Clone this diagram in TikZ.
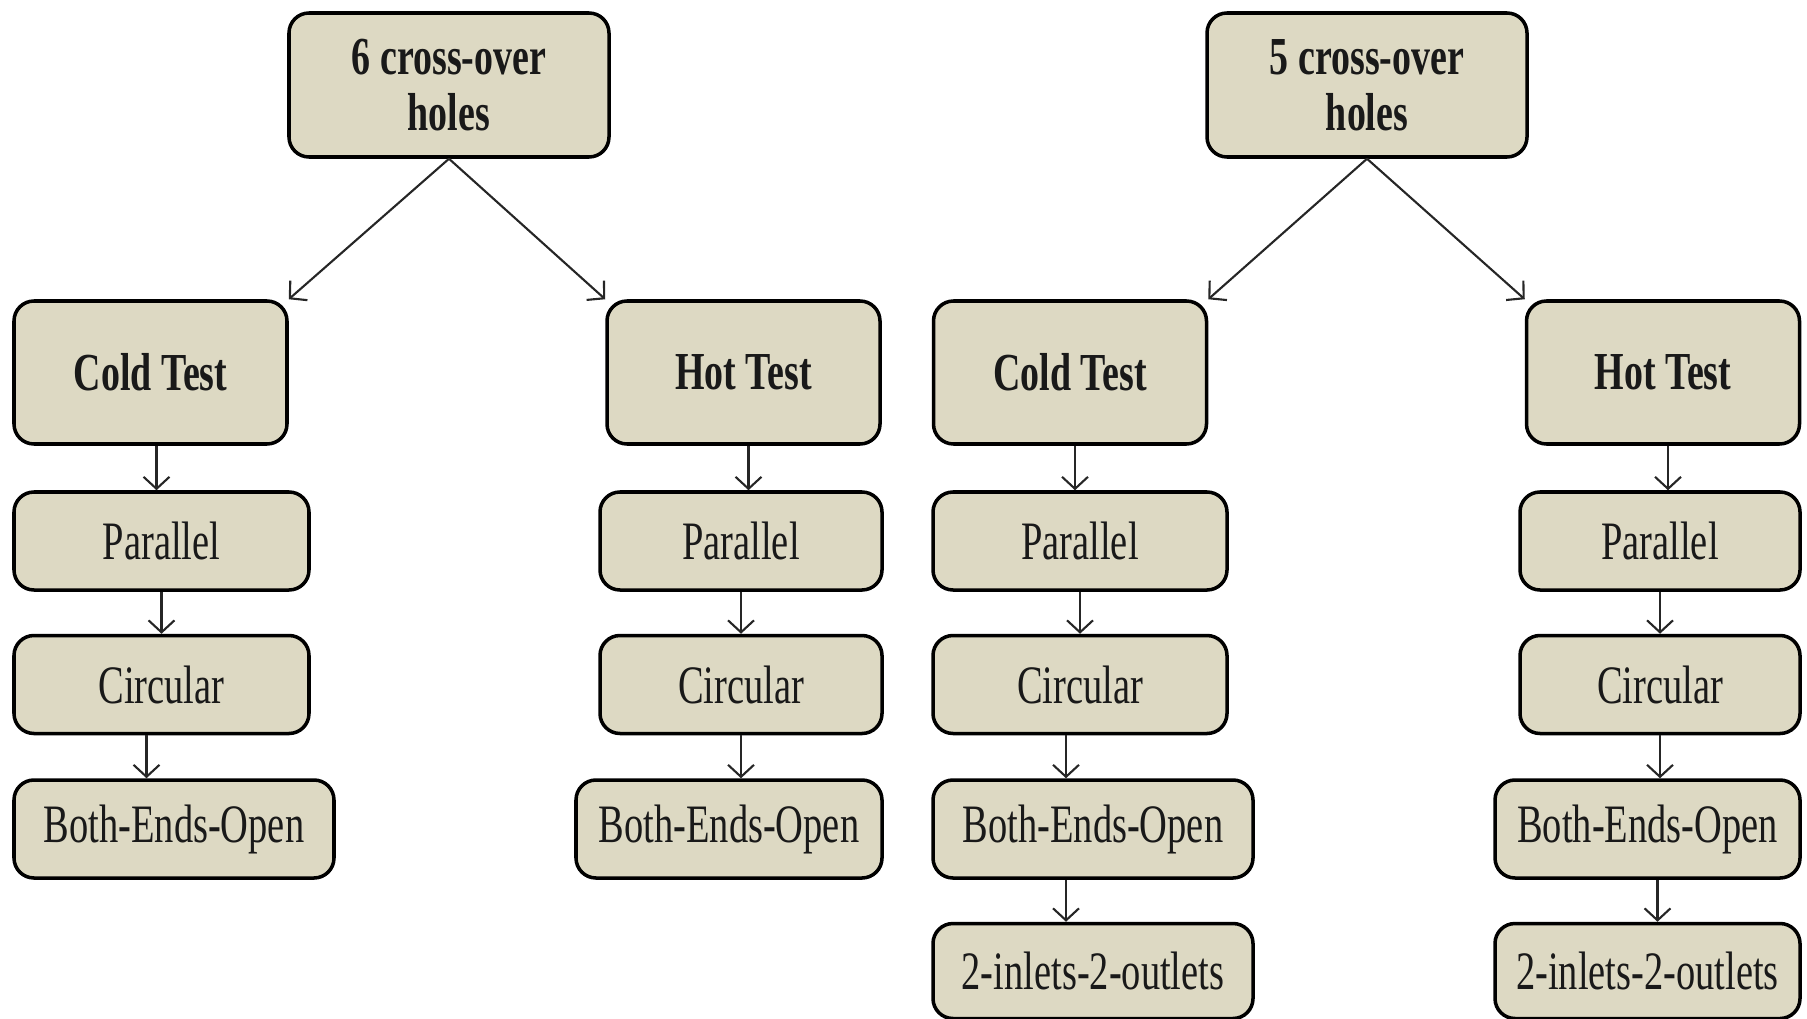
\documentclass[tikz,border=0pt]{standalone}
\usepackage{fontspec}
\setmainfont{Liberation Serif}[FakeStretch=0.71]
\usetikzlibrary{arrows.meta}
\definecolor{boxtan}{RGB}{221,217,195}
\definecolor{ink}{RGB}{25,25,25}

\begin{document}
\begin{tikzpicture}[
    box/.style={draw=black, fill=boxtan, line width=1pt, rounded corners=2mm,
                inner sep=0pt, align=center, text=ink,
                font=\fontsize{15.4pt}{16pt}\selectfont},
    head/.style={box, minimum width=3.2cm, minimum height=1.44cm,
                 font=\fontsize{15.2pt}{16pt}\selectfont\bfseries},
    test/.style={box, minimum width=2.73cm, minimum height=1.43cm,
                 font=\fontsize{15.2pt}{16pt}\selectfont\bfseries},
    sub/.style={box, minimum height=0.98cm},
    arr/.style={draw=black!85, line width=0.6pt,
                -{Straight Barb[length=1.2mm,width=2.6mm]}}]
  \useasboundingbox (0,0) rectangle (18.07,-10.19);
  % heads
  \node[head] (top6) at (4.49,-0.85)  {6 cross-over\\holes};
  \node[head] (top5) at (13.67,-0.85) {5 cross-over\\holes};
  % tests
  \node[test] (cold6) at (1.505,-3.725) {Cold Test};
  \node[test] (hot6)  at (7.435,-3.725) {Hot Test};
  \node[test] (cold5) at (10.70,-3.725) {Cold Test};
  \node[test] (hot5)  at (16.63,-3.725) {Hot Test};
  % 6 holes, cold
  \node[sub, minimum width=2.95cm] (par6c)  at (1.615,-5.41)  {Parallel};
  \node[sub, minimum width=2.95cm] (circ6c) at (1.615,-6.845) {Circular};
  \node[sub, minimum width=3.20cm] (beo6c)  at (1.74,-8.29)   {Both-Ends-Open};
  % 6 holes, hot
  \node[sub, minimum width=2.82cm] (par6h)  at (7.41,-5.41)   {Parallel};
  \node[sub, minimum width=2.82cm] (circ6h) at (7.41,-6.845)  {Circular};
  \node[sub, minimum width=3.06cm] (beo6h)  at (7.29,-8.29)   {Both-Ends-Open};
  % 5 holes, cold
  \node[sub, minimum width=2.94cm] (par5c)  at (10.80,-5.41)  {Parallel};
  \node[sub, minimum width=2.94cm] (circ5c) at (10.80,-6.845) {Circular};
  \node[sub, minimum width=3.20cm] (beo5c)  at (10.93,-8.29)  {Both-Ends-Open};
  \node[sub, minimum width=3.20cm, minimum height=0.95cm] (two5c) at (10.93,-9.71) {2-inlets-2-outlets};
  % 5 holes, hot
  \node[sub, minimum width=2.80cm] (par5h)  at (16.60,-5.41)  {Parallel};
  \node[sub, minimum width=2.80cm] (circ5h) at (16.60,-6.845) {Circular};
  \node[sub, minimum width=3.05cm] (beo5h)  at (16.475,-8.29) {Both-Ends-Open};
  \node[sub, minimum width=3.05cm, minimum height=0.95cm] (two5h) at (16.475,-9.71) {2-inlets-2-outlets};
  % connectors
  \draw[arr] (top6.south) -- (cold6.north east);
  \draw[arr] (top6.south) -- (hot6.north west);
  \draw[arr] (top5.south) -- (cold5.north east);
  \draw[arr] (top5.south) -- (hot5.north west);
  \draw[arr] ([xshift=0.06cm]cold6.south) -- ([xshift=0.06cm]cold6.south |- par6c.north);
  \draw[arr] (par6c.south) -- (par6c.south |- circ6c.north);
  \draw[arr] ([xshift=-0.15cm]circ6c.south) -- ([xshift=-0.15cm]circ6c.south |- beo6c.north);
  \draw[arr] ([xshift=0.05cm]hot6.south) -- ([xshift=0.05cm]hot6.south |- par6h.north);
  \draw[arr] (par6h.south) -- (par6h.south |- circ6h.north);
  \draw[arr] (circ6h.south) -- (circ6h.south |- beo6h.north);
  \draw[arr] ([xshift=0.05cm]cold5.south) -- ([xshift=0.05cm]cold5.south |- par5c.north);
  \draw[arr] (par5c.south) -- (par5c.south |- circ5c.north);
  \draw[arr] ([xshift=-0.14cm]circ5c.south) -- ([xshift=-0.14cm]circ5c.south |- beo5c.north);
  \draw[arr] ([xshift=-0.27cm]beo5c.south) -- ([xshift=-0.27cm]beo5c.south |- two5c.north);
  \draw[arr] ([xshift=0.05cm]hot5.south) -- ([xshift=0.05cm]hot5.south |- par5h.north);
  \draw[arr] (par5h.south) -- (par5h.south |- circ5h.north);
  \draw[arr] (circ5h.south) -- (circ5h.south |- beo5h.north);
  \draw[arr] ([xshift=0.1cm]beo5h.south) -- ([xshift=0.1cm]beo5h.south |- two5h.north);
\end{tikzpicture}
\end{document}
